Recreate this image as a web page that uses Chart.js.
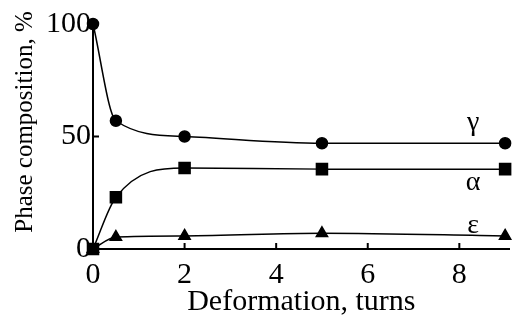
<!DOCTYPE html>
<html>
<head>
<meta charset="utf-8">
<script src="https://cdn.jsdelivr.net/npm/chart.js@4.4.1/dist/chart.umd.min.js"></script>
<style>
  html, body { margin: 0; padding: 0; background: #fff; }
  #box { width: 519px; height: 320px; }
</style>
</head>
<body>
<div id="box"><canvas id="grafico"></canvas></div>
<script>
// dados
const deformacao = [0, 0.5, 2, 5, 9];
const gama = [100, 57, 50, 47, 47];
const alfa = [0, 23, 36, 35.5, 35.5];
const epsilon = [0, 5.3, 5.8, 7, 5.8];
const ticksX = [0, 2, 4, 6, 8];
const ticksY = [0, 50, 100];
const nomesFases = ['γ', 'α', 'ε'];
// onde fica o nome de cada curva (em coordenadas de dados)
const posNomes = [[8.3, 56], [8.3, 29.5], [8.3, 10.5]];

const fonte = '"Liberation Serif", "Times New Roman", serif';

function pontos(vals) {
    return deformacao.map((x, i) => ({ x: x, y: vals[i] }));
}

function serie(vals, estilo, raio) {
    return {
        data: pontos(vals),
        borderColor: '#000',
        backgroundColor: '#000',
        borderWidth: 1.5,
        pointStyle: estilo,
        pointRadius: raio,
        pointHoverRadius: raio,
        cubicInterpolationMode: 'monotone',
        clip: false
    };
}

// tracinhos dos eixos para dentro, nomes das fases e título do eixo y
const extras = {
    id: 'extras',
    afterDraw(chart) {
        const ctx = chart.ctx;
        const sx = chart.scales.x, sy = chart.scales.y;
        const area = chart.chartArea;
        ctx.save();
        ctx.strokeStyle = '#000';
        ctx.lineWidth = 2;
        ticksX.forEach(v => {
            const px = sx.getPixelForValue(v);
            ctx.beginPath();
            ctx.moveTo(px, area.bottom);
            ctx.lineTo(px, area.bottom - 6);
            ctx.stroke();
        });
        ticksY.forEach(v => {
            const py = sy.getPixelForValue(v);
            ctx.beginPath();
            ctx.moveTo(area.left, py);
            ctx.lineTo(area.left + 6, py);
            ctx.stroke();
        });
        ctx.fillStyle = '#000';
        ctx.font = '28px ' + fonte;
        ctx.textAlign = 'center';
        ctx.textBaseline = 'middle';
        nomesFases.forEach((t, i) => {
            ctx.fillText(t, sx.getPixelForValue(posNomes[i][0]), sy.getPixelForValue(posNomes[i][1]));
        });
        // título do eixo y
        ctx.font = '25px ' + fonte;
        ctx.translate(25, 122);
        ctx.rotate(-Math.PI / 2);
        ctx.fillText('Phase composition, %', 0, 0);
        ctx.restore();
    }
};

const config = {
    type: 'line',
    data: {
        datasets: [
            serie(gama, 'circle', 5.5),
            serie(alfa, 'rect', 7.8),
            serie(epsilon, 'triangle', 6.5)
        ]
    },
    options: {
        responsive: false,
        animation: false,
        layout: { padding: { top: 24, right: 0, left: 0, bottom: 0 } },
        plugins: { legend: { display: false }, tooltip: { enabled: false } },
        scales: {
            x: {
                type: 'linear',
                min: 0,
                max: 9.1,
                afterBuildTicks: s => { s.ticks = ticksX.map(v => ({ value: v })); },
                afterFit: s => { s.height = 71; },
                border: { display: true, color: '#000', width: 2 },
                grid: { display: false },
                ticks: { color: '#000', font: { family: fonte, size: 30 }, padding: 0, maxRotation: 0 },
                title: { display: true, text: 'Deformation, turns', color: '#000', font: { family: fonte, size: 30 }, padding: { top: 0, bottom: 0 } }
            },
            y: {
                min: 0,
                max: 100,
                afterBuildTicks: s => { s.ticks = ticksY.map(v => ({ value: v })); },
                afterFit: s => { s.width = 93; },
                border: { display: true, color: '#000', width: 2 },
                grid: { display: false },
                ticks: { color: '#000', font: { family: fonte, size: 30 }, padding: -6 },
                title: { display: false }
            }
        }
    },
    plugins: [extras]
};

const canvas = document.getElementById('grafico');
canvas.width = 519;
canvas.height = 320;
new Chart(canvas, config);
</script>
</body>
</html>
